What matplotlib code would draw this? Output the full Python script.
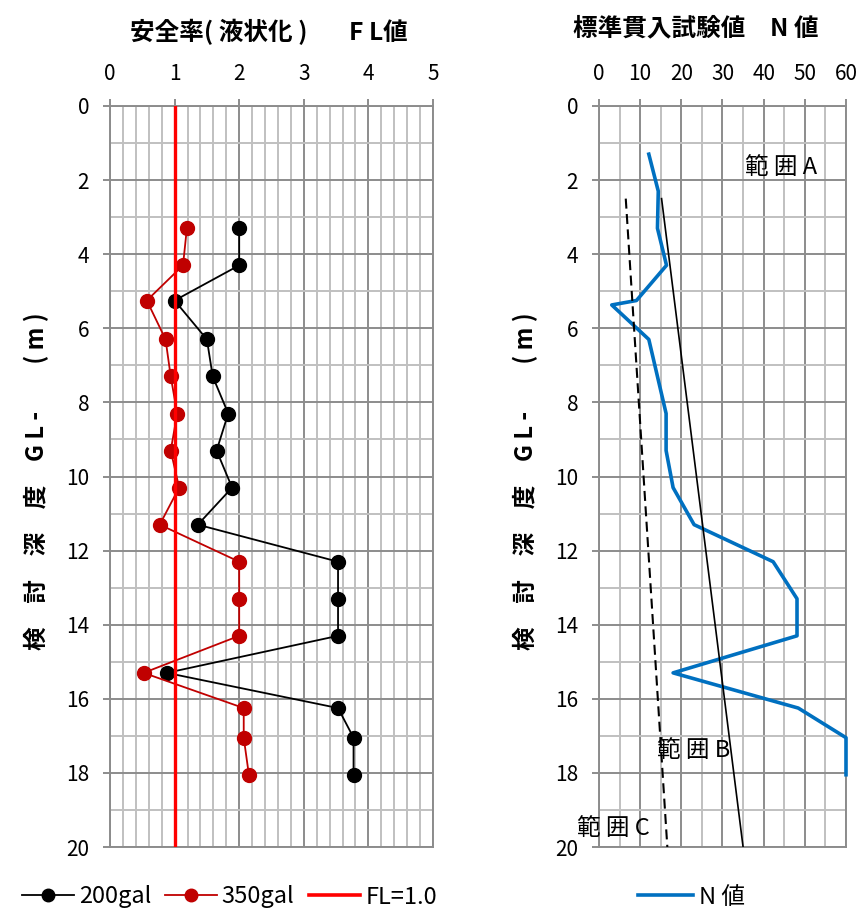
import matplotlib
matplotlib.use("Agg")
import matplotlib.pyplot as plt
from matplotlib.ticker import MultipleLocator
from matplotlib.lines import Line2D

plt.rcParams['font.family'] = ['Noto Sans CJK JP', 'DejaVu Sans']

# ---- data ----
depth_fl = [3.3, 4.3, 5.25, 6.3, 7.3, 8.3, 9.3, 10.3, 11.3, 12.3, 13.3, 14.3, 15.3, 16.25, 17.05, 18.05]
fl_200 = [2.0, 2.0, 1.0, 1.5, 1.59, 1.83, 1.65, 1.89, 1.36, 3.53, 3.53, 3.53, 0.88, 3.53, 3.77, 3.77]
fl_350 = [1.19, 1.13, 0.57, 0.86, 0.94, 1.04, 0.94, 1.07, 0.77, 2.0, 2.0, 2.0, 0.52, 2.07, 2.07, 2.15]
fl_ref = [1.0, 1.0]
fl_ref_depth = [0, 20]

depth_n = [1.3, 2.3, 3.3, 4.3, 5.25, 5.37, 6.3, 8.3, 9.3, 10.3, 11.3, 12.3, 13.3, 14.3, 15.3, 16.25, 17.05, 18.05]
n_val = [12.1, 14.4, 14.2, 16.4, 9.1, 3.1, 12.1, 16.3, 16.3, 18.0, 23.1, 42.3, 48.1, 48.1, 18.0, 48.4, 60, 60]

rangeA_n = [15.2, 35.0]
rangeA_depth = [2.5, 20]
rangeC_n = [6.5, 16.6]
rangeC_depth = [2.5, 20]

fl_ticks = [0, 1, 2, 3, 4, 5]
n_ticks = [0, 10, 20, 30, 40, 50, 60]
depth_ticks = list(range(0, 21, 2))

W, H = 861, 917
fig = plt.figure(figsize=(W / 100, H / 100), dpi=100)

def ax_rect(x0, x1, y0, y1):
    return [x0 / W, 1 - y1 / H, (x1 - x0) / W, (y1 - y0) / H]

axL = fig.add_axes(ax_rect(110, 433, 106, 847))
axR = fig.add_axes(ax_rect(599, 846, 106, 847))

major_c = '#8c8c8c'
minor_c = '#c0c0c0'

def style(ax, xmax, xmaj, xmin, xt):
    ax.set_xlim(0, xmax)
    ax.set_ylim(20, 0)
    ax.xaxis.set_major_locator(MultipleLocator(xmaj))
    ax.xaxis.set_minor_locator(MultipleLocator(xmin))
    ax.yaxis.set_major_locator(MultipleLocator(2))
    ax.yaxis.set_minor_locator(MultipleLocator(1))
    ax.set_xticks(xt)
    ax.set_yticks(depth_ticks)
    ax.xaxis.tick_top()
    ax.grid(which='minor', color=minor_c, lw=1.4, zorder=0)
    ax.grid(which='major', color=major_c, lw=1.4, zorder=0)
    ax.set_axisbelow(True)
    for s in ax.spines.values():
        s.set_color(major_c)
        s.set_linewidth(1.4)
    ax.tick_params(which='major', length=5, color=major_c, width=1.4, labelsize=15)
    ax.tick_params(which='minor', length=0)
    ax.tick_params(axis='x', pad=10)
    ax.tick_params(axis='y', pad=10)

style(axL, 5, 1, 0.2, fl_ticks)
style(axR, 60, 10, 5, n_ticks)

# left panel
axL.plot(fl_200, depth_fl, color='black', lw=1.3, marker='o', ms=10, zorder=3)
axL.plot(fl_350, depth_fl, color='#C00000', lw=1.3, marker='o', ms=10, zorder=3)
axL.plot(fl_ref, fl_ref_depth, color='#FF0000', lw=2.4, zorder=4)

# right panel
axR.plot(n_val, depth_n, color='#0070C0', lw=2.6, zorder=3, clip_on=False)
axR.plot(rangeA_n, rangeA_depth, color='black', lw=1.2, zorder=3)
axR.plot(rangeC_n, rangeC_depth, color='black', lw=1.5, ls=(0, (4.8, 2.6)), zorder=3)

axR.text(35.4, 1.67, '範 囲 A', fontsize=17, va='center', ha='left')
axR.text(14.1, 17.4, '範 囲 B', fontsize=17, va='center', ha='left')
axR.text(-5.3, 19.5, '範 囲 C', fontsize=17, va='center', ha='left', clip_on=False)

ylab = '検　討　深　度　G L -　　( m )'
for xpix in (36, 525):
    fig.text(xpix / W, 1 - 481 / H, ylab, rotation=90, fontsize=17, fontweight='bold',
             ha='center', va='center')

fig.text(130 / W, 1 - 32 / H, '安全率( 液状化 )　   F L値', fontsize=17.7, fontweight='bold',
         ha='left', va='center')
fig.text(573 / W, 1 - 28 / H, '標準貫入試験値　N 値', fontsize=17.7, fontweight='bold',
         ha='left', va='center')

leg_font = {'size': 17}
h1 = Line2D([], [], color='black', lw=1.3, marker='o', ms=9)
h2 = Line2D([], [], color='#C00000', lw=1.3, marker='o', ms=9)
h3 = Line2D([], [], color='#FF0000', lw=2.6)
h4 = Line2D([], [], color='#0070C0', lw=2.6)
fig.legend([h1, h2, h3], ['200gal', '350gal', 'FL=1.0'], loc='center left',
           bbox_to_anchor=(22 / W, 1 - 897 / H), ncol=3, frameon=False, prop=leg_font,
           handlelength=2.2, handletextpad=0.2, columnspacing=0.6, borderpad=0, borderaxespad=0)
fig.legend([h4], ['N 値'], loc='center left', bbox_to_anchor=(638 / W, 1 - 897 / H),
           frameon=False, prop=leg_font, handlelength=2.35, handletextpad=0.25,
           borderpad=0, borderaxespad=0)

fig.savefig('out.png', dpi=100)
